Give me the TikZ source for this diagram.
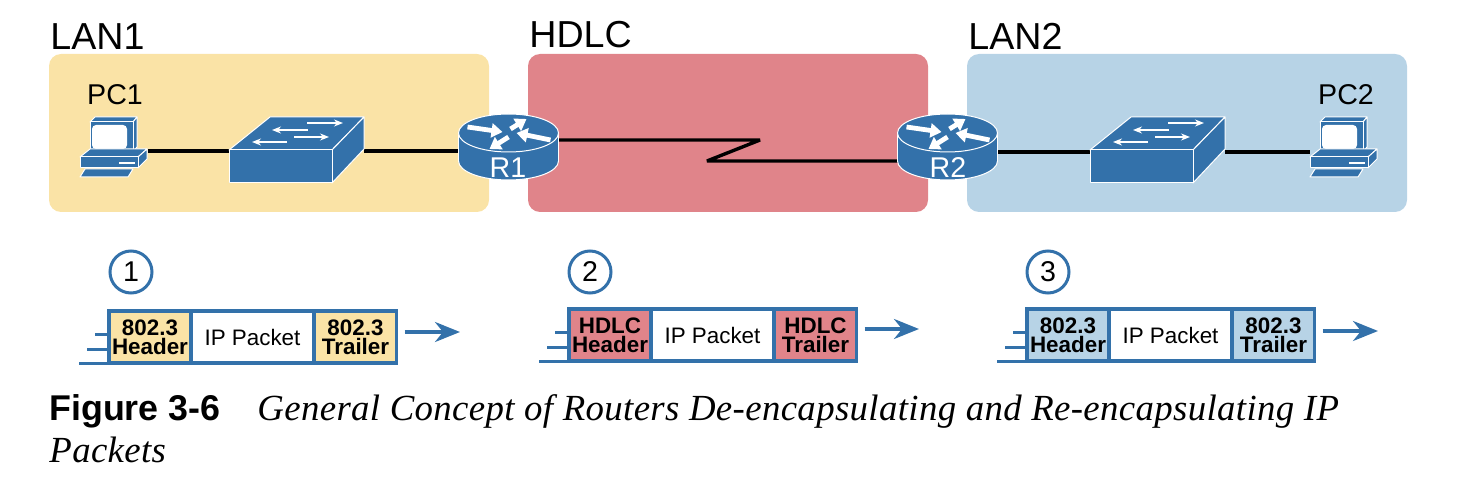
\documentclass[tikz,border=0pt]{standalone}
\usepackage{fontspec}
\setmainfont{Liberation Sans}
\newfontfamily\capserif[LetterSpace=1]{Liberation Serif}
\usetikzlibrary{arrows.meta}

\definecolor{lanyellow}{HTML}{FAE3A6}
\definecolor{wanred}{HTML}{E0848A}
\definecolor{lanblue}{HTML}{B7D3E6}
\definecolor{iconblue}{HTML}{3371AA}

\tikzset{
    zone/.style={fill=#1, rounded corners=6pt, minimum width=220pt, minimum height=79pt, inner sep=0pt, outer sep=0pt},
    zonelabel/.style={anchor=base west, inner sep=0pt, font=\fontsize{18.8}{20}\selectfont},
    devlabel/.style={inner sep=0pt, font=\fontsize{14.3}{16}\selectfont},
    anchorbox/.style={inner sep=0pt, outer sep=0pt, minimum width=#1},
    link/.style={line width=1.7pt, line join=bevel},
    iconface/.style={fill=iconblue, draw=white, line width=0.5pt, line join=round},
    swarrow/.style={-{Stealth[length=4.5pt,width=3.5pt]}, white, line width=0.7pt},
    rtarrow/.style={-{Triangle[length=5.5pt,width=7pt]}, white, line width=2.4pt},
    cell/.style={draw=iconblue, line width=1.7pt, fill=#1, inner sep=0pt, outer sep=0pt, minimum height=26pt, align=center,
                 font=\fontsize{11.2}{9.5}\selectfont\bfseries},
    hdrcell/.style={cell=#1, minimum width=41pt},
    paycell/.style={cell=white, minimum width=61.5pt, font=\fontsize{11.2}{13}\selectfont},
    stepmark/.style={draw=iconblue, line width=1.5pt, circle, minimum size=21pt, inner sep=0pt, font=\fontsize{14.3}{16}\selectfont},
    tail/.style={draw=iconblue, line width=1.5pt},
    flow/.style={-{Stealth[length=12.5pt,width=10pt,inset=4pt]}, draw=iconblue, fill=iconblue, line width=1.7pt},
    caphead/.style={anchor=base west, inner sep=0pt, font=\fontsize{17.9}{20}\selectfont\bfseries},
    captext/.style={anchor=base west, inner sep=0pt, font=\fontsize{18.4}{20}\selectfont\capserif\itshape},
    pcicon/.pic={
        \filldraw[iconface] (-24,-25) -- (19,-25) -- (23,-30) -- (-19,-30) -- cycle;
        \filldraw[iconface] (19,-25) -- (23,-30) -- (23,0) -- (19,5) -- cycle;
        \filldraw[iconface] (-24,-25) rectangle (19,5);
        \fill[white, rounded corners=2pt] (-22,-22) rectangle (13,2);
        \filldraw[iconface] (-34,10) -- (-24,2) -- (33,2) -- (24,10) -- cycle;
        \filldraw[iconface] (24,10) -- (33,2) -- (33,12) -- (24,21) -- cycle;
        \filldraw[iconface] (-34,10) rectangle (24,21);
        \draw[white, line width=0.6pt] (5,16) -- (21,16);
        \filldraw[iconface] (-29,22) -- (19,22) -- (14,30) -- (-34,30) -- cycle;
    },
    switchicon/.pic={
        \filldraw[iconface] (-67.5,0) -- (35.5,0) -- (67.5,-33) -- (-26.5,-33) -- cycle;
        \filldraw[iconface] (35.5,0) -- (67.5,-33) -- (67.5,-1) -- (35.5,33) -- cycle;
        \filldraw[iconface] (-67.5,0) rectangle (35.5,33);
        \draw[swarrow] (10.5,-27) -- (46.5,-27);
        \draw[swarrow] (11.5,-20) -- (-24.5,-20);
        \draw[swarrow] (-2.5,-13) -- (32.5,-13);
        \draw[swarrow] (-9.5,-8) -- (-44.5,-8);
    },
    routericon/.pic={
        \filldraw[iconface] (0,14) ellipse [x radius=50, y radius=19];
        \fill[iconblue] (-50,-14) rectangle (50,14);
        \draw[white, line width=0.5pt] (-50,-14) -- (-50,14) (50,-14) -- (50,14);
        \filldraw[iconface] (0,-14) ellipse [x radius=50, y radius=19];
        \draw[rtarrow] (-41,-20) -- (-6,-15);
        \draw[rtarrow] (2,-18) -- (18,-28);
        \draw[rtarrow] (42,-7) -- (8,-14);
        \draw[rtarrow] (0,-10) -- (-19,2);
    }
}

\begin{document}
\begin{tikzpicture}[x=0.5pt, y=-0.5pt]
    \useasboundingbox (0,0) rectangle (1466,486);

    % Zones
    \node[zone=lanyellow] (lan1) at (269,133) {};
    \node[zone=wanred, minimum width=200pt] (hdlc) at (728,133) {};
    \node[zone=lanblue] (lan2) at (1187,133) {};
    \node[zonelabel] (lan1lbl) at (50,50) {LAN1};
    \node[zonelabel] (hdlclbl) at (529,48) {HDLC};
    \node[zonelabel] (lan2lbl) at (968,50) {LAN2};

    % Devices
    \node[anchorbox=34pt] (pc1) at (114,151) {};
    \node[anchorbox=67.5pt] (sw1) at (296.5,151) {};
    \node[anchorbox=50pt] (r1) at (508.5,147) {};
    \node[anchorbox=50pt] (r2) at (947.5,147) {};
    \node[anchorbox=67.5pt] (sw2) at (1157.5,152) {};
    \node[anchorbox=34pt] (pc2) at (1344,152) {};
    \coordinate (zigtop) at (760,140);
    \coordinate (zigbot) at (707,161);

    % Links
    \draw[link] (pc1) -- (sw1);
    \draw[link] (sw1) -- (sw1 -| r1);
    \draw[link] (zigtop -| r1) -- (zigtop) -- (zigbot) -- (zigbot -| r2);
    \draw[link] (sw2 -| r2) -- (sw2);
    \draw[link] (sw2) -- (pc2);

    % Icons
    \pic at (114,147) {pcicon};
    \pic at (296.5,150) {switchicon};
    \pic at (r1) {routericon};
    \pic at (r2) {routericon};
    \pic at (1157.5,150) {switchicon};
    \pic at (1344,147) {pcicon};
    \node[devlabel] (pc1lbl) at (115,95) {PC1};
    \node[devlabel] (pc2lbl) at (1346,95) {PC2};
    \node[devlabel, white] (r1lbl) at (508,168) {R1};
    \node[devlabel, white] (r2lbl) at (948,168) {R2};

    % Frame 1
    \node[stepmark] (st1) at (131,272) {1};
    \node[hdrcell=lanyellow] (hdr1) at (150,337) {802.3\\Header};
    \node[paycell] (pay1) at (252.5,337) {IP Packet};
    \node[hdrcell=lanyellow] (trl1) at (355.5,337) {802.3\\Trailer};
    \coordinate (taila1) at (95,334);
    \coordinate (tailb1) at (87,349);
    \coordinate (tailc1) at (79,363);
    \draw[tail] (taila1) -- (taila1 -| hdr1.west);
    \draw[tail] (tailb1) -- (tailb1 -| hdr1.west);
    \draw[tail] (tailc1) -- (tailc1 -| hdr1.west);
    \coordinate (out1) at (460,332);
    \draw[flow] (out1 -| trl1.east) ++(8,0) -- (out1);

    % Frame 2
    \node[stepmark] (st2) at (590,272) {2};
    \node[hdrcell=wanred] (hdr2) at (610,335) {HDLC\\Header};
    \node[paycell] (pay2) at (712.5,335) {IP Packet};
    \node[hdrcell=wanred] (trl2) at (815.5,335) {HDLC\\Trailer};
    \coordinate (taila2) at (555,332);
    \coordinate (tailb2) at (547,347);
    \coordinate (tailc2) at (539,361);
    \draw[tail] (taila2) -- (taila2 -| hdr2.west);
    \draw[tail] (tailb2) -- (tailb2 -| hdr2.west);
    \draw[tail] (tailc2) -- (tailc2 -| hdr2.west);
    \coordinate (out2) at (919,329);
    \draw[flow] (out2 -| trl2.east) ++(8,0) -- (out2);

    % Frame 3
    \node[stepmark] (st3) at (1048,272) {3};
    \node[hdrcell=lanblue] (hdr3) at (1068,335) {802.3\\Header};
    \node[paycell] (pay3) at (1170.5,335) {IP Packet};
    \node[hdrcell=lanblue] (trl3) at (1273.5,335) {802.3\\Trailer};
    \coordinate (taila3) at (1013,332);
    \coordinate (tailb3) at (1005,347);
    \coordinate (tailc3) at (997,361);
    \draw[tail] (taila3) -- (taila3 -| hdr3.west);
    \draw[tail] (tailb3) -- (tailb3 -| hdr3.west);
    \draw[tail] (tailc3) -- (tailc3 -| hdr3.west);
    \coordinate (out3) at (1378,331);
    \draw[flow] (out3 -| trl3.east) ++(8,0) -- (out3);

    % Caption
    \node[caphead] (fighead) at (49,420) {Figure 3-6};
    \node[captext] (figline) at (257,420) {General Concept of Routers De-encapsulating and Re-encapsulating IP};
    \node[captext] (figlast) at (49,462) {Packets};
\end{tikzpicture}
\end{document}
